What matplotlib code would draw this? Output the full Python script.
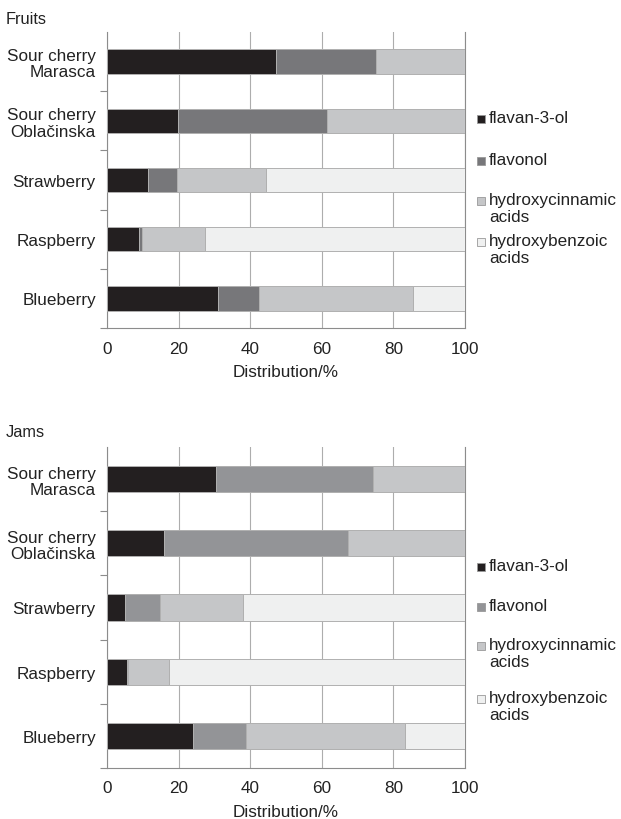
import matplotlib.pyplot as plt
from matplotlib.patches import Rectangle
import numpy as np

plt.rcParams['font.family'] = ['Liberation Sans', 'DejaVu Sans']

# categories (top to bottom) and % distributions
categories = ['Sour cherry\nMarasca', 'Sour cherry\nOblačinska', 'Strawberry', 'Raspberry', 'Blueberry']
series_names = ['flavan-3-ol', 'flavonol', 'hydroxycinnamic\nacids', 'hydroxybenzoic\nacids']
x_ticks = [0, 20, 40, 60, 80, 100]

fruits_flavan = [47.3, 19.9, 11.5, 9.0, 31.1]
fruits_flavonol = [27.9, 41.6, 8.1, 0.7, 11.3]
fruits_hca = [24.8, 38.5, 24.9, 17.8, 43.1]
fruits_hba = [0.0, 0.0, 55.5, 72.5, 14.5]

jams_flavan = [30.4, 16.0, 4.9, 5.7, 24.0]
jams_flavonol = [43.9, 51.2, 9.9, 0.3, 14.8]
jams_hca = [25.7, 32.8, 23.3, 11.2, 44.4]
jams_hba = [0.0, 0.0, 61.9, 82.8, 16.8]

W, H = 621, 820
FS = 12.3
TXT = '#222222'


def fx(px):
    return px / W


def fy(py):
    return 1 - py / H


def draw_panel(fig, box, title, title_y, series, colors, legend_y):
    left, top, right, bottom = box
    ax = fig.add_axes([fx(left), fy(bottom), fx(right - left), (bottom - top) / H])
    y = np.arange(len(categories))
    start = np.zeros(len(categories))
    for vals, col in zip(series, colors):
        vals = np.array(vals)
        ax.barh(y, vals, left=start, height=0.41, color=col,
                edgecolor='#b0b0b0', linewidth=0.7, zorder=3)
        start += vals
    ax.set_xlim(0, 100)
    ax.set_ylim(len(categories) - 0.5, -0.5)
    ax.set_xticks(x_ticks)
    ax.set_yticks(y)
    ax.set_yticklabels(categories, fontsize=FS, ha='right', color=TXT, linespacing=1.1)
    # short outward ticks between the categories
    ax.set_yticks(np.arange(0.5, len(categories), 1.0), minor=True)
    ax.tick_params(axis='y', which='major', length=0, pad=8)
    ax.tick_params(axis='y', which='minor', length=5, color='#8c8c8c', width=0.8)
    ax.tick_params(axis='x', length=0, pad=9, labelsize=FS, labelcolor=TXT)
    ax.xaxis.grid(True, color='#adadad', linewidth=0.8)
    ax.set_axisbelow(True)
    ax.spines['top'].set_visible(False)
    for s in ['left', 'bottom', 'right']:
        ax.spines[s].set_color('#8c8c8c')
        ax.spines[s].set_linewidth(0.8)
    ax.set_xlabel('Distribution/%', fontsize=FS, color=TXT, labelpad=6)

    fig.text(fx(6), fy(title_y), title, fontsize=FS - 0.5, va='center', ha='left', color=TXT)

    # legend drawn by hand to keep the uneven spacing of the original
    for name, col, ly in zip(series_names, colors, legend_y):
        fig.add_artist(Rectangle((fx(477), fy(ly + 4)), 8 / W, 8 / H, transform=fig.transFigure,
                                 facecolor=col, edgecolor='#999999', linewidth=0.6))
        fig.text(fx(489), fy(ly - 9), name, fontsize=FS, va='top', ha='left',
                 color=TXT, linespacing=1.15)
    return ax


fig = plt.figure(figsize=(W / 100, H / 100), dpi=100)

draw_panel(fig, (107, 33, 465, 329), 'Fruits', 20,
           [fruits_flavan, fruits_flavonol, fruits_hca, fruits_hba],
           ['#231f20', '#77777a', '#c5c6c8', '#eff0f0'],
           [120, 162, 202, 243])

draw_panel(fig, (107, 448, 465, 769), 'Jams', 433,
           [jams_flavan, jams_flavonol, jams_hca, jams_hba],
           ['#231f20', '#939497', '#c5c6c8', '#eff0f0'],
           [568, 608, 647, 700])

fig.savefig('out.png', dpi=100)
